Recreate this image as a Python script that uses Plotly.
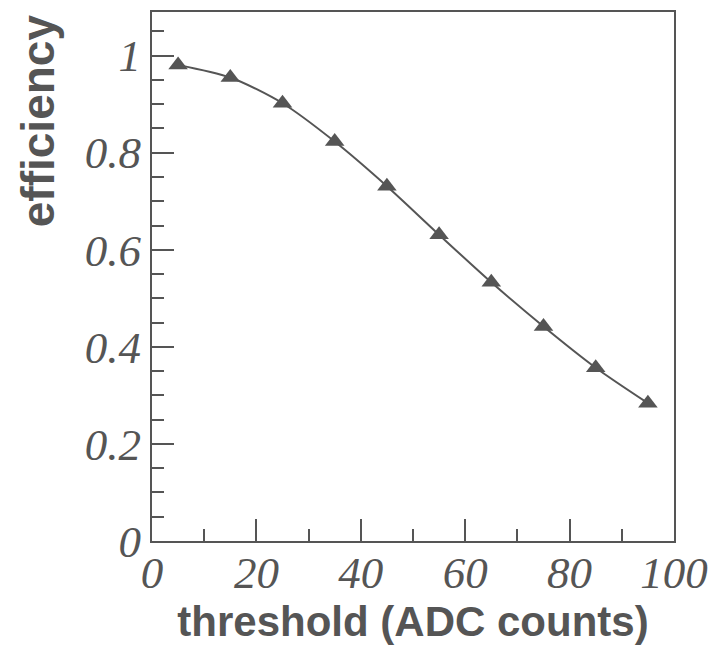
import plotly.graph_objects as go

threshold = [5, 15, 25, 35, 45, 55, 65, 75, 85, 95]
efficiency = [0.981, 0.955, 0.902, 0.823, 0.731, 0.631, 0.533, 0.442, 0.357, 0.284]
x_ticks = [0, 20, 40, 60, 80, 100]
y_ticks = [0, 0.2, 0.4, 0.6, 0.8, 1]
y_tick_text = ["0", "0.2", "0.4", "0.6", "0.8", "1"]

ink = "#555555"

fig = go.Figure()
fig.add_trace(go.Scatter(
    x=threshold, y=efficiency, mode="lines+markers",
    line=dict(color=ink, width=2, shape="spline", smoothing=0.8),
    marker=dict(symbol="triangle-up", size=17, color=ink),
    showlegend=False,
))

tick_font = dict(family="Liberation Serif", size=45, color=ink, style="italic")

fig.update_layout(
    width=718, height=661,
    margin=dict(l=152, r=38, t=10, b=120),
    paper_bgcolor="white", plot_bgcolor="white",
    xaxis=dict(
        range=[0, 100], tickvals=x_ticks, ticktext=[str(v) for v in x_ticks],
        ticks="inside", ticklen=22, tickwidth=2, tickcolor=ink,
        minor=dict(ticks="inside", ticklen=12, tickwidth=2, tickcolor=ink, dtick=10, showgrid=False),
        showline=True, linewidth=2, linecolor=ink, mirror=True,
        showgrid=False, zeroline=False, tickfont=tick_font,
        ticklabelstandoff=-9,
        title=dict(text="threshold (ADC counts)",
                   font=dict(family="Liberation Sans", size=42, color=ink, weight="bold"),
                   standoff=0),
    ),
    yaxis=dict(
        range=[0, 1.09], tickvals=y_ticks, ticktext=y_tick_text,
        ticks="inside", ticklen=22, tickwidth=2, tickcolor=ink,
        minor=dict(ticks="inside", ticklen=12, tickwidth=2, tickcolor=ink, dtick=0.05, showgrid=False),
        showline=True, linewidth=2, linecolor=ink, mirror=True,
        showgrid=False, zeroline=False, tickfont=tick_font,
        ticklabelstandoff=0,
    ),
    annotations=[dict(
        text="efficiency", textangle=-90, xref="paper", yref="paper",
        x=-152/528, y=1, xanchor="left", yanchor="top",
        xshift=8, showarrow=False,
        font=dict(family="Liberation Sans", size=46, color=ink, weight="bold"),
    )],
)

fig.write_html("out.html")
